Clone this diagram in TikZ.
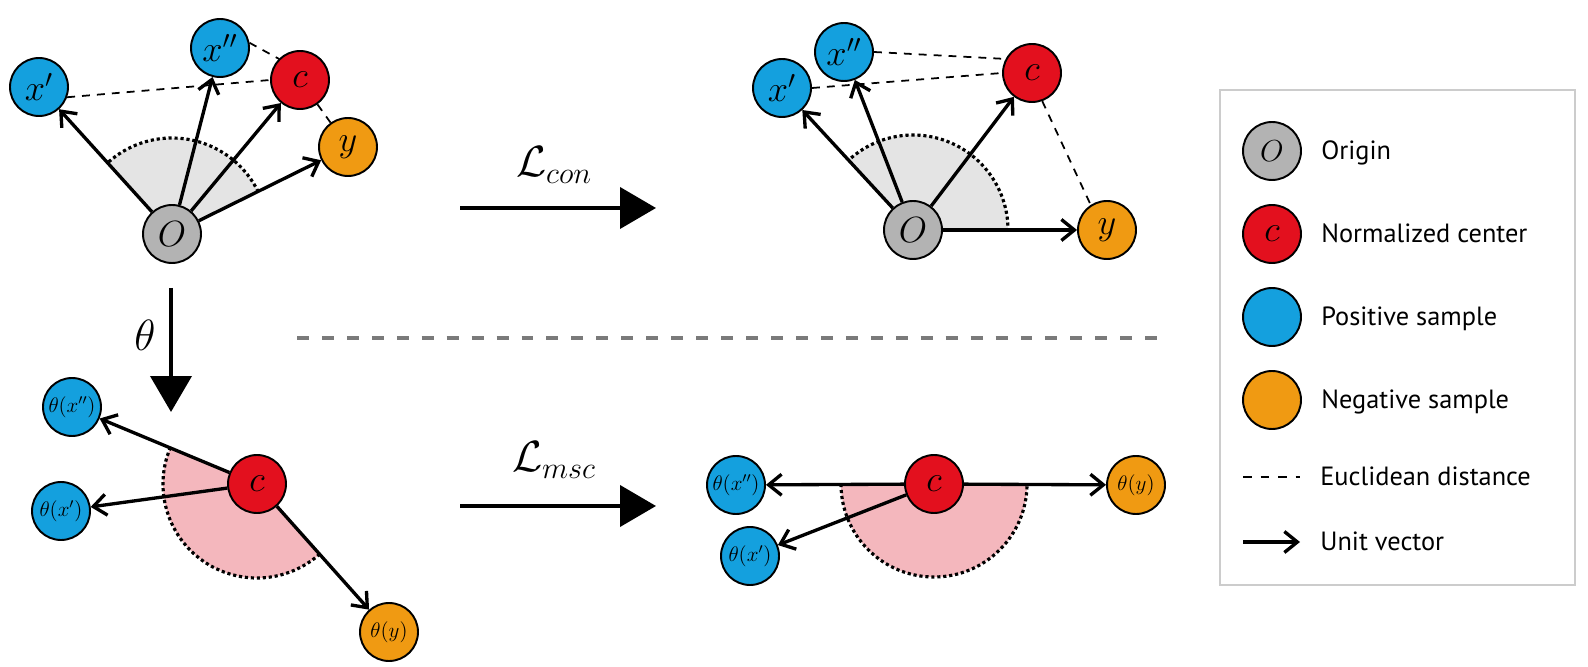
\documentclass[tikz,border=0pt]{standalone}
\usepackage[no-math]{fontspec}
\usepackage{amsmath}
\usepackage{tikz}
\usetikzlibrary{positioning,arrows.meta,calc,backgrounds}
\newfontfamily\legfont{PT Sans}
\definecolor{oriGray}{HTML}{B3B3B3}
\definecolor{cenRed}{HTML}{E3101E}
\definecolor{posBlue}{HTML}{14A0DE}
\definecolor{negOrange}{HTML}{F09A12}
\definecolor{coneGray}{HTML}{E4E4E4}
\definecolor{conePink}{HTML}{F4B7BD}
\definecolor{sepGray}{HTML}{7A7A7A}
\definecolor{legGray}{HTML}{CCCCCC}
\tikzset{
  basenode/.style={circle, draw, line width=1.1pt, minimum size=1.16cm, inner sep=0pt, font=\fontsize{22}{26}\selectfont},
  orinode/.style={basenode, fill=oriGray},
  cennode/.style={basenode, fill=cenRed},
  posnode/.style={basenode, fill=posBlue},
  negnode/.style={basenode, fill=negOrange},
  mapped/.style={font=\fontsize{12}{14}\selectfont},
  unitvec/.style={-{Straight Barb[length=2.6mm, width=4.2mm]}, line width=1.9pt},
  eucdist/.style={line width=1pt, dash pattern=on 4.5pt off 4pt},
  bigflow/.style={-{Triangle[length=0.72cm, width=0.82cm]}, line width=2.3pt},
  arcdots/.style={line width=1.8pt, dash pattern=on 1.8pt off 1.6pt},
  sepline/.style={sepGray, line width=2.3pt, dash pattern=on 6.8pt off 7.4pt},
  lossnode/.style={font=\fontsize{24}{28}\selectfont},
  legframe/.style={draw=legGray, line width=1pt, minimum width=7.1cm, minimum height=9.9cm},
  legtext/.style={inner sep=0pt, text height=13pt, text depth=3pt, font=\legfont\fontsize{15}{18}\selectfont}
}
\begin{document}
\begin{tikzpicture}[x=0.02cm, y=0.02cm]
  \useasboundingbox (0,0) rectangle (1588,666);
  % top left
  \node[orinode] (o1) at (172,432) {$O$};
  \node[posnode] (xa1) at (39,579) {$x'$};
  \node[posnode] (xb1) at (220,618) {$x''$};
  \node[cennode] (c1) at (300,586) {$c$};
  \node[negnode] (y1) at (348,519) {$y$};
  % top right
  \node[orinode] (o2) at (913,436) {$O$};
  \node[posnode] (xa2) at (782,578) {$x'$};
  \node[posnode] (xb2) at (844,614) {$x''$};
  \node[cennode] (c2) at (1032,593) {$c$};
  \node[negnode] (y2) at (1107,436) {$y$};
  % bottom left
  \node[posnode, mapped] (txb3) at (72,259) {$\theta(x'')$};
  \node[posnode, mapped] (txa3) at (61,155) {$\theta(x')$};
  \node[cennode] (c3) at (257,182) {$c$};
  \node[negnode, mapped] (ty3) at (389,34) {$\theta(y)$};
  % bottom right
  \node[posnode, mapped] (txb4) at (736,181) {$\theta(x'')$};
  \node[posnode, mapped] (txa4) at (750,110) {$\theta(x')$};
  \node[cennode] (c4) at (934,182) {$c$};
  \node[negnode, mapped] (ty4) at (1136,181) {$\theta(y)$};
  % angle sectors
  \begin{scope}[on background layer]
    \fill[coneGray] (o1.center) -- ++(26:96) arc[start angle=26, end angle=132, radius=96] -- cycle;
    \draw[arcdots] (o1.center) ++(26:96) arc[start angle=26, end angle=132, radius=96];
    \fill[coneGray] (o2.center) -- ++(-1:95) arc[start angle=-1, end angle=133, radius=95] -- cycle;
    \draw[arcdots] (o2.center) ++(-1:95) arc[start angle=-1, end angle=133, radius=95];
    \fill[conePink] (c3.center) -- ++(157:94) arc[start angle=157, end angle=312, radius=94] -- cycle;
    \draw[arcdots] (c3.center) ++(157:94) arc[start angle=157, end angle=312, radius=94];
    \fill[conePink] (c4.center) -- ++(180:93) arc[start angle=180, end angle=360, radius=93] -- cycle;
    \draw[arcdots] (c4.center) ++(180:93) arc[start angle=180, end angle=360, radius=93];
  \end{scope}
  % distances and unit vectors
  \draw[eucdist] (xa1.-20) -- (c1.west);
  \draw[eucdist] (xb1.10) -- (c1.135);
  \draw[eucdist] (c1) -- (y1);
  \draw[unitvec] (o1) -- (xa1);
  \draw[unitvec] (o1) -- (xb1);
  \draw[unitvec] (o1) -- (c1);
  \draw[unitvec] (o1) -- (y1);
  \draw[eucdist] (xa2.east) -- (c2.west);
  \draw[eucdist] (xb2.east) -- (c2.152);
  \draw[eucdist] (c2.-70) -- (y2.123);
  \draw[unitvec] (o2) -- (xa2);
  \draw[unitvec] (o2) -- (xb2);
  \draw[unitvec] (o2) -- (c2);
  \draw[unitvec] (o2) -- (y2);
  \draw[unitvec] (c3) -- (txb3);
  \draw[unitvec] (c3) -- (txa3);
  \draw[unitvec] (c3) -- (ty3);
  \draw[unitvec] (c4) -- (txb4);
  \draw[unitvec] (c4) -- (txa4);
  \draw[unitvec] (c4) -- (ty4);
  % losses and mapping
  \coordinate (conA) at (460,458);
  \coordinate (conB) at (656,458);
  \draw[bigflow] (conA) -- (conB);
  \node[lossnode] (lcon) at (554,501) {$\mathcal{L}_{con}$};
  \coordinate (mscA) at (460,160);
  \coordinate (mscB) at (656,160);
  \draw[bigflow] (mscA) -- (mscB);
  \node[lossnode] (lmsc) at (554,206) {$\mathcal{L}_{msc}$};
  \coordinate (mapA) at (171,378);
  \coordinate (mapB) at (171,254);
  \draw[bigflow] (mapA) -- (mapB);
  \node[lossnode] (ltheta) at (145,331) {$\theta$};
  \coordinate (sepA) at (297,328);
  \coordinate (sepB) at (1160,328);
  \draw[sepline] (sepA) -- (sepB);
  % legend
  \node[legframe] (legend) at (1397.5,328.5) {};
  \node[orinode, font=\fontsize{17}{20}\selectfont] (lori) at (1272,515) {$O$};
  \node[cennode] (lcen) at (1272,432) {$c$};
  \node[posnode] (lpos) at (1272,349) {};
  \node[negnode] (lneg) at (1272,266) {};
  \coordinate (ldashA) at (1243,189);
  \coordinate (ldashB) at (1300,189);
  \draw[line width=1pt, dash pattern=on 5pt off 5pt] (ldashA) -- (ldashB);
  \coordinate (larrA) at (1243,124);
  \coordinate (larrB) at (1300,124);
  \draw[unitvec] (larrA) -- (larrB);
  \node[legtext, right=0.38cm of lori] (tori) {Origin};
  \node[legtext, right=0.38cm of lcen] (tcen) {Normalized center};
  \node[legtext, right=0.38cm of lpos] (tpos) {Positive sample};
  \node[legtext, right=0.38cm of lneg] (tneg) {Negative sample};
  \node[legtext, right=0.4cm of ldashB] (tdash) {Euclidean distance};
  \node[legtext, right=0.4cm of larrB] (tarr) {Unit vector};
\end{tikzpicture}
\end{document}
